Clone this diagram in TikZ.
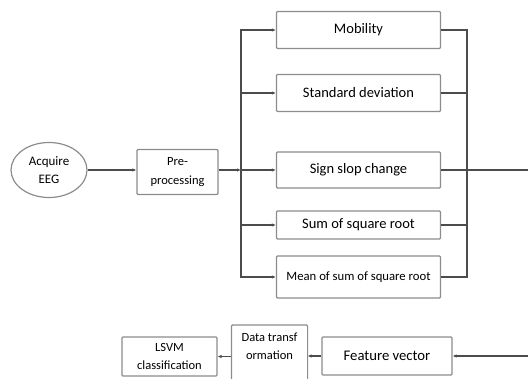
\documentclass[tikz,border=0pt]{standalone}
\usepackage{fontspec}
\setmainfont{Carlito}
\usepackage{tikz}
\usetikzlibrary{shapes,arrows.meta}
\definecolor{boxgray}{rgb}{0.55,0.55,0.55}
\definecolor{linegray}{rgb}{0.3,0.3,0.3}
\tikzstyle{featbox} = [rectangle, draw=boxgray, line width=1.2pt, fill=white,
    minimum width=164pt, text centered, rounded corners=1pt, inner sep=2pt,
    font=\fontsize{14.5}{18}\selectfont]
\tikzstyle{stepbox} = [rectangle, draw=boxgray, line width=1.2pt, fill=white,
    text centered, rounded corners=1pt, inner sep=2pt]
\tikzset{
  myarrow/.style={-{Latex[length=4pt,width=3.5pt]}, draw=linegray, line width=1.1pt},
  myline/.style={draw=linegray, line width=1.1pt},
	}

\begin{document}
\begin{tikzpicture}[x=1pt, y=-1pt, align=center, font=\fontsize{13}{18}\selectfont]
    \useasboundingbox (0,0) rectangle (528,378);
    \node[ellipse, draw=boxgray, line width=1.2pt, minimum width=76pt, minimum height=55pt, inner sep=0pt](eeg) at (49,170){Acquire\\EEG};
    \node[stepbox, minimum width=81pt, minimum height=45pt, font=\fontsize{12.5}{19}\selectfont](pre) at (177.5,172){Pre-\\processing};
    \draw[myarrow](eeg.east)--(eeg.east -| pre.west);
    \coordinate (split) at (241,170);
    \draw[myarrow](split -| pre.east)--(split);
    \node[featbox, minimum height=37pt](mob) at (358.5,30){Mobility};
    \node[featbox, minimum height=37pt](std) at (358.5,93){Standard deviation};
    \node[featbox, minimum height=36pt](ssc) at (358.5,170){Sign slop change};
    \node[featbox, minimum height=28pt](ssr) at (358.5,225){Sum of square root};
    \node[featbox, minimum height=42pt, font=\fontsize{12.7}{14}\selectfont](mean) at (358.5,277){Mean of sum of square root};
    \draw[myarrow](split)|-(mob.west);
    \draw[myarrow](split)|-(std.west);
    \draw[myarrow](split)--(ssc.west);
    \draw[myarrow](split)|-(ssr.west);
    \draw[myarrow](split)|-(mean.west);
    \coordinate (join) at (467,170);
    \coordinate (out) at (528,170);
    \draw[myline](mob.east)-|(join);
    \draw[myline](std.east)-|(join);
    \draw[myline](ssr.east)-|(join);
    \draw[myline](mean.east)-|(join);
    \draw[myline](ssc.east)--(out);
    \node[stepbox, minimum width=130pt, minimum height=38pt, font=\fontsize{14.7}{18}\selectfont](fv) at (387,356){Feature vector};
    \coordinate (back) at (528,356);
    \draw[myarrow](back)--(fv.east);
    % box runs on past the lower edge
    \node[stepbox, draw=none, fill=none, minimum width=75pt, minimum height=42pt, anchor=north, font=\fontsize{12.5}{18}\selectfont](dt) at (269.5,325){Data transf\\ormation};
    \draw[boxgray, line width=1.2pt, rounded corners=1pt](dt.north west) rectangle ([yshift=-30pt]dt.south east);
    \draw[myarrow](fv.west)--(dt.east |- fv.west);
    \node[stepbox, minimum width=95pt, minimum height=39pt, font=\fontsize{12.5}{17.5}\selectfont](lsvm) at (169.5,356.5){LSVM\\classification};
    \draw[myarrow](dt.west |- lsvm.east)--(lsvm.east);
\end{tikzpicture}
\end{document}
